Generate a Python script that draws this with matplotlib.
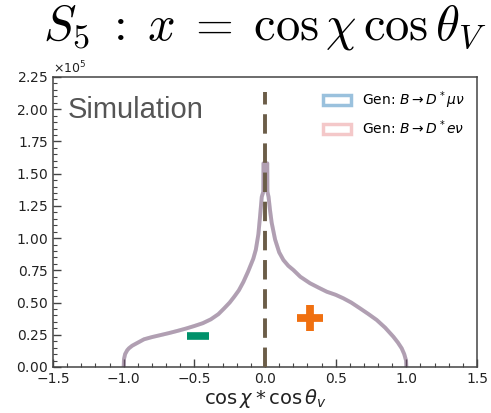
import matplotlib
matplotlib.use("Agg")
import matplotlib.pyplot as plt
from matplotlib.patches import Patch
from matplotlib.ticker import MultipleLocator, ScalarFormatter

####################### Data ##################################################
# cos(chi)*cos(theta_V) and counts (in units of 1e5)
x_vals = [-1.000, -0.998, -0.990, -0.975, -0.963, -0.940, -0.915, -0.856, -0.800,
          -0.738, -0.680, -0.620, -0.560, -0.500, -0.440, -0.383, -0.330, -0.289,
          -0.250, -0.218, -0.185, -0.153, -0.120, -0.083, -0.065, -0.047, -0.035,
          -0.023, -0.012, -0.011, 0.016, 0.017, 0.025, 0.035, 0.047, 0.071, 0.100,
          0.130, 0.165, 0.200, 0.250, 0.318, 0.380, 0.437, 0.500, 0.554, 0.610,
          0.672, 0.730, 0.790, 0.850, 0.908, 0.940, 0.967, 0.985, 0.998, 1.000]
mu_counts = [0.00, 0.06, 0.10, 0.13, 0.145, 0.165, 0.18, 0.215, 0.232,
             0.248, 0.263, 0.28, 0.298, 0.318, 0.34, 0.37, 0.41, 0.455,
             0.50, 0.545, 0.595, 0.66, 0.74, 0.84, 0.91, 1.03, 1.17,
             1.32, 1.36, 1.58, 1.58, 1.36, 1.32, 1.22, 1.12, 0.99, 0.89,
             0.83, 0.785, 0.753, 0.70, 0.65, 0.615, 0.584, 0.56, 0.533, 0.50,
             0.455, 0.412, 0.365, 0.305, 0.235, 0.19, 0.145, 0.10, 0.05, 0.00]
e_counts = list(mu_counts)

scale = 1e5
mu_y = [v * scale for v in mu_counts]
e_y = [v * scale for v in e_counts]

####################### Create Plot #############################
plt.rcParams['mathtext.fontset'] = 'dejavusans'
fig = plt.figure(figsize=(4.91, 4.13), dpi=100)
ax = fig.add_axes([0.108, 0.1114, 0.8635, 0.7022])

mu_col = '#1f77b4'
e_col = '#d62728'
ax.plot(x_vals, mu_y, color=mu_col, alpha=0.4, lw=2.8, zorder=2)
ax.plot(x_vals, e_y, color=e_col, alpha=0.25, lw=2.8, zorder=2)

# dashed line at zero
ax.vlines(0, 0, 2.13e5, colors='#6b5d48', linestyles=(0, (5, 2.5)), lw=2.8, zorder=3)

# sign markers
ax.plot([-0.472], [0.244e5], marker='_', ms=16.5, mew=5.5, color='#00916b', zorder=4)
ax.plot([0.318], [0.378e5], marker='+', ms=18.5, mew=5.6, color='#f07010', zorder=4)

ax.text(0.035, 0.935, 'Simulation', transform=ax.transAxes, fontsize=21,
        family='Liberation Sans', color='#555555', va='top', ha='left')

handles = [Patch(facecolor='none', edgecolor=mu_col, alpha=0.45, lw=2.5),
           Patch(facecolor='none', edgecolor=e_col, alpha=0.25, lw=2.5)]
labels = ['Gen: $B\\to D^*\\mu\\nu$', 'Gen: $B\\to D^*e\\nu$']
ax.legend(handles, labels, loc='upper right', frameon=False, fontsize=10)

ax.set_xlim(-1.5, 1.5)
ax.set_ylim(0, 2.25e5)
ax.xaxis.set_major_locator(MultipleLocator(0.5))
ax.xaxis.set_minor_locator(MultipleLocator(0.1))
ax.yaxis.set_major_locator(MultipleLocator(0.25e5))
ax.yaxis.set_minor_locator(MultipleLocator(0.05e5))
fmt = ScalarFormatter(useMathText=True)
fmt.set_powerlimits((0, 0))
ax.yaxis.set_major_formatter(fmt)
ax.yaxis.get_major_formatter().set_useOffset(False)
ax.yaxis.offsetText.set_fontsize(9)
ax.yaxis.offsetText.set_color('#333333')

ax.tick_params(which='both', direction='in', colors='#444444', labelcolor='#222222')
ax.tick_params(which='major', length=6, width=1, labelsize=10)
ax.tick_params(which='minor', length=3, width=0.8)
for sp in ax.spines.values():
    sp.set_color('#444444')
    sp.set_linewidth(1.1)

ax.set_xlabel('$\\cos\\chi * \\cos\\theta_v$', fontsize=14, color='#222222', labelpad=1)

ax.set_title('$S_5\\;:\\;x\\;=\\;\\mathrm{cos}\\,\\chi\\,\\mathrm{cos}\\,\\theta_V$', fontsize=35,
             pad=14, math_fontfamily='cm')

fig.savefig('out.png', dpi=100)
